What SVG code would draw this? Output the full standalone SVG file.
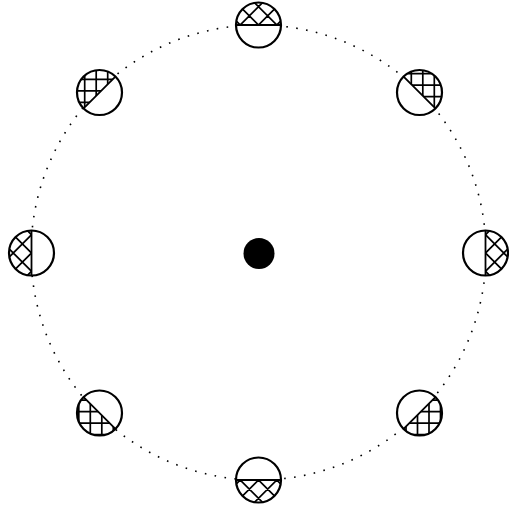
<svg xmlns="http://www.w3.org/2000/svg" width="509" height="507" viewBox="0 0 509 507">
<style>
.ring{fill:none;stroke:#000;stroke-width:1.6;stroke-dasharray:1.6 8.396}
.bg{fill:#fff;stroke:none}
.rim{fill:none;stroke:#000;stroke-width:2.2}
.chord{stroke:#000;stroke-width:1.8}
.h{stroke:#000;stroke-width:1.7;fill:none}
</style>
<defs>
<clipPath id="half" clipPathUnits="userSpaceOnUse">
<path d="M-22.5,0 A22.5,22.5 0 0 1 22.5,0 Z"/>
</clipPath>
<g id="xh">
<path class="h" d="M-66.6,-30 L-6.6,30 M-48.3,-30 L11.7,30 M-30,-30 L30,30 M-11.7,-30 L48.3,30 M6.6,-30 L66.6,30 M66.6,-30 L6.6,30 M48.3,-30 L-11.7,30 M30,-30 L-30,30 M11.7,-30 L-48.3,30 M-6.6,-30 L-66.6,30"/>
</g>
</defs>
<g id="connectors">
<circle class="ring" cx="258.5" cy="252.5" r="227.5"/>
</g>
<g id="center">
<circle cx="259" cy="253.5" r="15.5" fill="#000"/>
</g>
<g id="n-top" transform="translate(258.5,25) rotate(0)">
<circle class="bg" r="22.5"/>
<g clip-path="url(#half)"><use href="#xh"/></g>
<line class="chord" x1="-22.5" y1="0" x2="22.5" y2="0"/>
<circle class="rim" r="22.5"/>
</g>
<g id="n-right" transform="translate(485.5,253) rotate(90)">
<circle class="bg" r="22.5"/>
<g clip-path="url(#half)"><use href="#xh"/></g>
<line class="chord" x1="-22.5" y1="0" x2="22.5" y2="0"/>
<circle class="rim" r="22.5"/>
</g>
<g id="n-bottom" transform="translate(258.5,480) rotate(180)">
<circle class="bg" r="22.5"/>
<g clip-path="url(#half)"><use href="#xh"/></g>
<line class="chord" x1="-22.5" y1="0" x2="22.5" y2="0"/>
<circle class="rim" r="22.5"/>
</g>
<g id="n-left" transform="translate(31.5,253) rotate(-90)">
<circle class="bg" r="22.5"/>
<g clip-path="url(#half)"><use href="#xh"/></g>
<line class="chord" x1="-22.5" y1="0" x2="22.5" y2="0"/>
<circle class="rim" r="22.5"/>
</g>
<g id="n-topleft" transform="translate(99.5,92.5) rotate(-45)">
<circle class="bg" r="22.5"/>
<g clip-path="url(#half)"><g transform="rotate(45)">
<path class="h" d="M-26.3,-30V30M-14.8,-30V30M-3.3,-30V30M8.2,-30V30M19.7,-30V30M-30,-24.7H30M-30,-13.2H30M-30,-1.7H30M-30,9.8H30M-30,21.3H30"/>
</g></g>
<line class="chord" x1="-22.5" y1="0" x2="22.5" y2="0"/>
<circle class="rim" r="22.5"/>
</g>
<g id="n-topright" transform="translate(419.5,92.5) rotate(45)">
<circle class="bg" r="22.5"/>
<g clip-path="url(#half)"><g transform="rotate(-45)">
<path class="h" d="M-19.7,-30V30M-8.2,-30V30M3.3,-30V30M14.8,-30V30M26.3,-30V30M-30,-18.8H30M-30,-7.3H30M-30,4.2H30M-30,15.7H30"/>
</g></g>
<line class="chord" x1="-22.5" y1="0" x2="22.5" y2="0"/>
<circle class="rim" r="22.5"/>
</g>
<g id="n-bottomright" transform="translate(419.5,413) rotate(135)">
<circle class="bg" r="22.5"/>
<g clip-path="url(#half)"><g transform="rotate(-135)">
<path class="h" d="M-25,-30V30M-13.5,-30V30M-2,-30V30M9.5,-30V30M21,-30V30M-30,-24.3H30M-30,-12.8H30M-30,-1.3H30M-30,10.2H30M-30,21.7H30"/>
</g></g>
<line class="chord" x1="-22.5" y1="0" x2="22.5" y2="0"/>
<circle class="rim" r="22.5"/>
</g>
<g id="n-bottomleft" transform="translate(99.5,413) rotate(-135)">
<circle class="bg" r="22.5"/>
<g clip-path="url(#half)"><g transform="rotate(135)">
<path class="h" d="M-20.7,-30V30M-9.2,-30V30M2.3,-30V30M13.8,-30V30M-30,-24.3H30M-30,-12.8H30M-30,-1.3H30M-30,10.2H30M-30,21.7H30"/>
</g></g>
<line class="chord" x1="-22.5" y1="0" x2="22.5" y2="0"/>
<circle class="rim" r="22.5"/>
</g>
</svg>
